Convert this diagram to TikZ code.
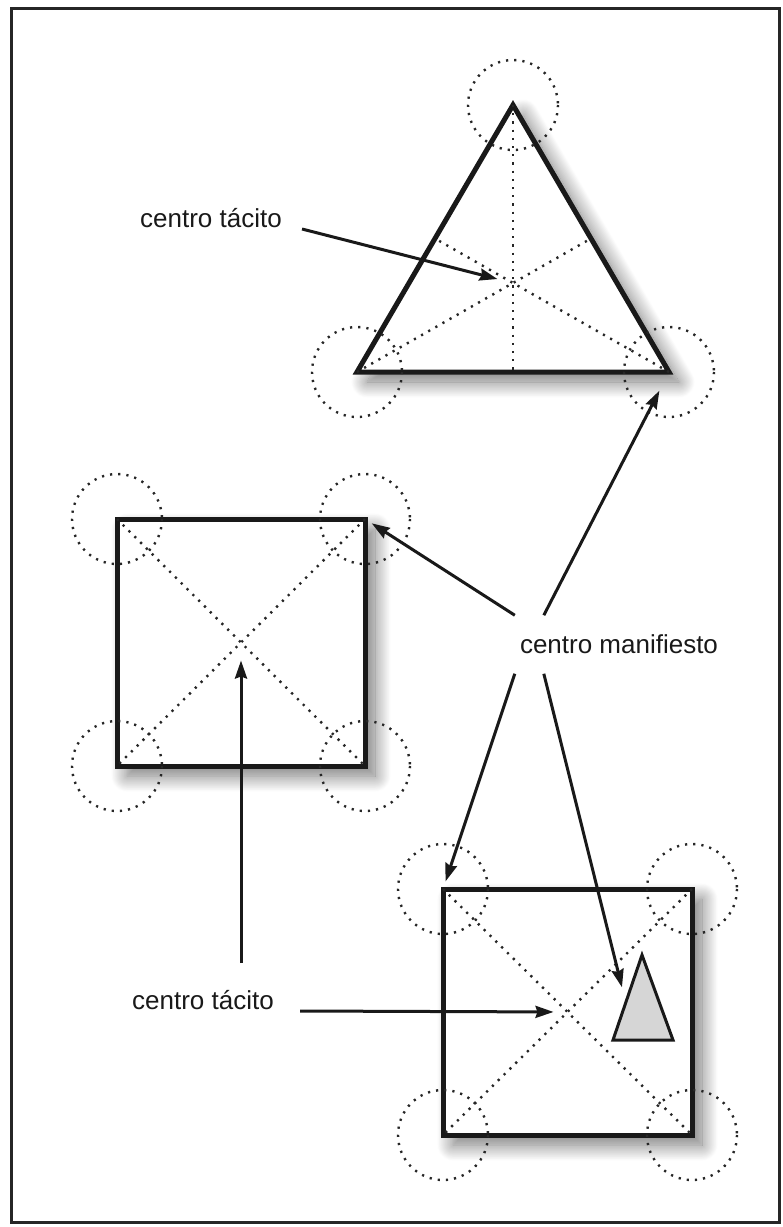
\documentclass[tikz,border=0pt]{standalone}
\usepackage{fontspec}
\setmainfont{Liberation Sans}
\usetikzlibrary{arrows.meta, calc, shadows.blur}

\begin{document}
\begin{tikzpicture}[
  % one unit is one pixel of the scan, y runs downwards
  x=1pt, y=-1pt, font=\fontsize{26}{30}\selectfont,
  plate/.style={draw=black!90, line width=5pt, fill=white, line join=miter,
    blur shadow={shadow xshift=10pt, shadow yshift=-10pt, shadow blur radius=16pt,
      shadow blur steps=24, shadow opacity=55}},
  wedge/.style={draw=black!90, line width=3pt, fill=black!16, line join=miter},
  dots/.style={line width=2.4pt, black!85, dash pattern=on 2.2pt off 6pt},
  lbl/.style={inner sep=0pt, text=black!90},
  ar/.style={-{Stealth[length=18pt, width=12pt, inset=2pt]}, line width=3pt, black!90},
]
\useasboundingbox (0,0) rectangle (783,1227);
\draw[line width=3pt, black!85] (11,8) rectangle (779,1222);
% triangle
\coordinate (ta) at (513,105);
\coordinate (tl) at (357,372);
\coordinate (tr) at (669,372);
\draw[plate] (ta) -- (tl) -- (tr) -- cycle;
\draw[dots] (ta) -- ($(tl)!.5!(tr)$);
\draw[dots] (tl) -- ($(ta)!.5!(tr)$);
\draw[dots] (tr) -- ($(ta)!.5!(tl)$);
\foreach \c in {ta,tl,tr} \draw[dots] (\c) circle[radius=45];
\coordinate (tc) at ($(ta)!2/3!($(tl)!.5!(tr)$)$);
% first square
\coordinate (s1nw) at (117,519);
\coordinate (s1ne) at (365,519);
\coordinate (s1se) at (365,766);
\coordinate (s1sw) at (117,766);
\draw[plate] (s1nw) rectangle (s1se);
\draw[dots] (s1nw) -- (s1se); \draw[dots] (s1ne) -- (s1sw);
\foreach \c in {s1nw,s1ne,s1se,s1sw} \draw[dots] (\c) circle[radius=45];
\coordinate (s1c) at ($(s1nw)!.5!(s1se)$);
% second square, with the small triangle
\coordinate (s2nw) at (443,889);
\coordinate (s2ne) at (692,889);
\coordinate (s2se) at (692,1135);
\coordinate (s2sw) at (443,1135);
\draw[plate] (s2nw) rectangle (s2se);
\draw[dots] (s2nw) -- (s2se); \draw[dots] (s2ne) -- (s2sw);
\foreach \c in {s2nw,s2ne,s2se,s2sw} \draw[dots] (\c) circle[radius=45];
\coordinate (s2c) at ($(s2nw)!.5!(s2se)$);
\coordinate (ma) at (642,955);
\coordinate (ml) at (613,1040);
\coordinate (mr) at (673,1040);
\draw[wedge] (ma) -- (ml) -- (mr) -- cycle;
% labels
\node[lbl] (tac1) at (211,218) {centro tácito};
\node[lbl] (man) at (619,644) {centro manifiesto};
\node[lbl] (tac2) at (203,1000) {centro tácito};
% arrows
\draw[ar, shorten >=16pt] ($(tac1.east)+(20,11)$) -- (tc);
\draw[ar, shorten >=8pt] ($(man.north west)+(-5,-19)$) -- (s1ne);
\draw[ar, shorten >=21pt] ($(man.north west)+(24,-19)$) -- (tr);
\draw[ar, shorten >=8pt] ($(man.south west)+(-5,20)$) -- (s2nw);
\draw[ar] ($(man.south west)+(24,20)$) -- ($(ma)!.38!(ml)+(-9,0)$);
\draw[ar, shorten >=18pt] ($(s1c |- tac2.north)+(0,-27)$) -- (s1c);
\draw[ar, shorten >=14pt] ($(tac2.east)+(26,11)$) -- (s2c);
\end{tikzpicture}
\end{document}
